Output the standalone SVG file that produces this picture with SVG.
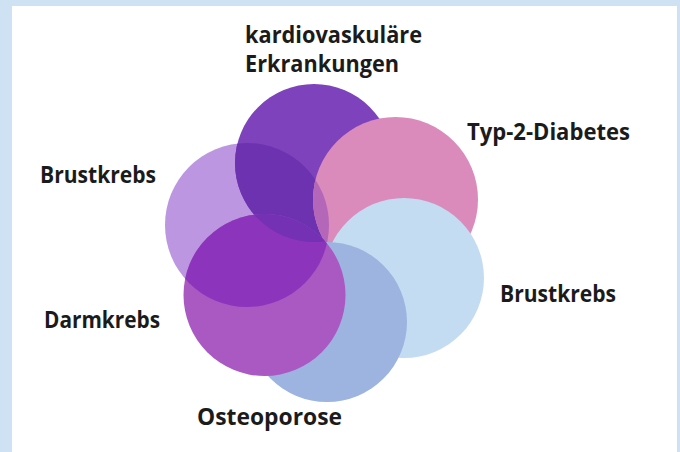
<svg xmlns="http://www.w3.org/2000/svg" width="680" height="452" viewBox="0 0 680 452">
<style>
.lbl{font-family:"Open Sans","Noto Sans","Liberation Sans",sans-serif;font-weight:700;font-size:22.5px;fill:#1b1b1b}
</style>
<defs>
<clipPath id="clipA"><circle cx="247" cy="225" r="82"/></clipPath>
<clipPath id="clipB"><circle cx="314" cy="163" r="79"/></clipPath>
</defs>
<rect x="0" y="0" width="680" height="452" fill="#cfe2f3"/>
<rect x="12" y="6" width="665" height="446" fill="#ffffff"/>
<g id="node-brustkrebs-links">
<circle cx="247" cy="225" r="82" fill="#bc96e0"/>
<text class="lbl" x="40" y="183" textLength="116" lengthAdjust="spacingAndGlyphs">Brustkrebs</text>
</g>
<g id="node-kardiovaskulaer">
<circle cx="314" cy="163" r="79" fill="#7d42bc"/>
<circle cx="314" cy="163" r="79" fill="#6c32b0" clip-path="url(#clipA)"/>
<text class="lbl" x="245" y="43" textLength="177" lengthAdjust="spacingAndGlyphs">kardiovaskuläre</text>
<text class="lbl" x="245" y="72" textLength="154" lengthAdjust="spacingAndGlyphs">Erkrankungen</text>
</g>
<g id="node-typ2">
<circle cx="395.5" cy="199.5" r="82.5" fill="#da8bbb"/>
<circle cx="395.5" cy="199.5" r="82.5" fill="#b467b8" clip-path="url(#clipA)"/>
<text class="lbl" x="467" y="140" textLength="163" lengthAdjust="spacingAndGlyphs">Typ-2-Diabetes</text>
</g>
<g id="node-brustkrebs-rechts">
<circle cx="404" cy="278" r="80" fill="#c4dcf1"/>
<text class="lbl" x="500" y="302" textLength="116" lengthAdjust="spacingAndGlyphs">Brustkrebs</text>
</g>
<g id="node-osteoporose">
<circle cx="327" cy="322" r="80" fill="#9cb4df"/>
<text class="lbl" x="197" y="425" textLength="145" lengthAdjust="spacingAndGlyphs">Osteoporose</text>
</g>
<g id="node-darmkrebs">
<circle cx="264.5" cy="295" r="81" fill="#aa58c2"/>
<circle cx="264.5" cy="295" r="81" fill="#8c35bc" clip-path="url(#clipA)"/>
<circle cx="264.5" cy="295" r="81" fill="#7431b4" clip-path="url(#clipB)"/>
<text class="lbl" x="44" y="328" textLength="116" lengthAdjust="spacingAndGlyphs">Darmkrebs</text>
</g>
<g id="connectors"/>
</svg>
